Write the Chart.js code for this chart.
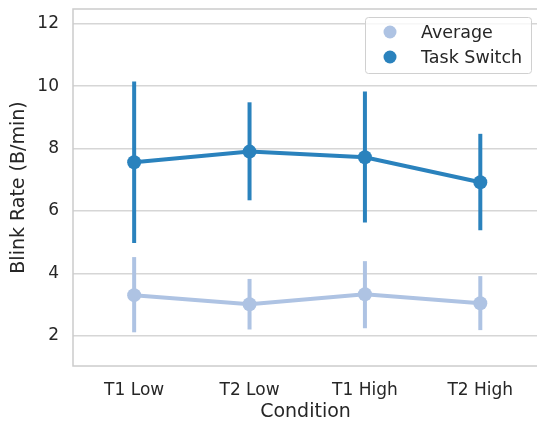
<!DOCTYPE html>
<html>
<head>
<meta charset="utf-8">
<script src="https://cdn.jsdelivr.net/npm/chart.js@4/dist/chart.umd.min.js"></script>
<style>
html,body{margin:0;padding:0;background:#fff;overflow:hidden;}
#wrap{width:545px;height:423px;}
</style>
</head>
<body>
<div id="wrap"><canvas id="c" width="545" height="423"></canvas></div>
<script>
const categories = ["T1 Low", "T2 Low", "T1 High", "T2 High"];
const seriesNames = ["Average", "Task Switch"];
const averageMean = [3.30, 3.01, 3.33, 3.04];
const averageLow  = [2.11, 2.20, 2.24, 2.18];
const averageHigh = [4.52, 3.82, 4.39, 3.91];
const taskMean = [7.56, 7.90, 7.72, 6.92];
const taskLow  = [4.97, 6.34, 5.63, 5.38];
const taskHigh = [10.15, 9.48, 9.83, 8.47];
const yTicks = [2, 4, 6, 8, 10, 12];

const colAvg = "#aec3e3";
const colTask = "#2a82bd";
const FONT = "'DejaVu Sans', sans-serif";

function errDatasets(lo, hi, color) {
  return lo.map((l, i) => ({
    type: 'line', data: [{x: i, y: l}, {x: i, y: hi[i]}],
    borderColor: color, borderWidth: 4, pointRadius: 0, borderCapStyle: 'butt',
    fill: false, isErr: true
  }));
}
function meanDataset(label, mean, color) {
  return {
    type: 'line', label: label, data: mean.map((v, i) => ({x: i, y: v})),
    borderColor: color, backgroundColor: color, borderWidth: 4,
    pointRadius: 7, pointHoverRadius: 7, pointBorderWidth: 0, pointBackgroundColor: color,
    fill: false, tension: 0, isMean: true
  };
}

const datasets = [
  ...errDatasets(averageLow, averageHigh, colAvg),
  meanDataset(seriesNames[0], averageMean, colAvg),
  ...errDatasets(taskLow, taskHigh, colTask),
  meanDataset(seriesNames[1], taskMean, colTask)
];
datasets.forEach((d, i) => d.order = datasets.length - i);

const framePlugin = {
  id: 'frame',
  beforeDatasetsDraw(chart) {
    const {ctx, chartArea: a} = chart;
    ctx.save();
    ctx.strokeStyle = '#cccccc';
    ctx.lineWidth = 1.5;
    ctx.strokeRect(a.left, a.top, a.right - a.left, a.bottom - a.top);
    ctx.restore();
  },
  afterDraw(chart) {
    const ctx = chart.ctx;
    const bx = 365, by = 17, bw = 166, bh = 56;
    ctx.save();
    ctx.fillStyle = 'rgba(255,255,255,0.8)';
    ctx.strokeStyle = '#d0d0d0';
    ctx.lineWidth = 1;
    ctx.beginPath();
    if (ctx.roundRect) ctx.roundRect(bx + 0.5, by + 0.5, bw, bh, 3); else ctx.rect(bx + 0.5, by + 0.5, bw, bh);
    ctx.fill(); ctx.stroke();
    const items = chart.data.datasets.filter(d => d.isMean);
    items.forEach((d, i) => {
      const y = 32 + i * 25;
      ctx.fillStyle = d.borderColor;
      ctx.beginPath(); ctx.arc(390, y, 6.5, 0, Math.PI * 2); ctx.fill();
      ctx.fillStyle = '#262626';
      ctx.font = '17.5px ' + FONT;
      ctx.textBaseline = 'middle';
      ctx.textAlign = 'left';
      ctx.fillText(d.label, 421, y + 1);
    });
    ctx.restore();
  }
};

new Chart(document.getElementById('c'), {
  type: 'line',
  data: { datasets },
  plugins: [framePlugin],
  options: {
    responsive: false, animation: false,
    layout: { padding: { left: 0, top: 9, right: 3, bottom: 0 } },
    plugins: { legend: { display: false }, tooltip: { enabled: false } },
    scales: {
      x: {
        type: 'linear', min: -0.53, max: 3.5,
        afterBuildTicks: s => { s.ticks = categories.map((_, i) => ({value: i})); },
        afterFit: s => { s.height = 57; s.paddingLeft = 0; s.paddingRight = 0; },
        grid: { display: false, drawTicks: false },
        border: { display: false },
        ticks: { callback: v => categories[v] ?? '', color: '#262626', font: { family: FONT, size: 17 }, padding: 14, maxRotation: 0 },
        title: { display: true, text: 'Condition', color: '#262626', font: { family: FONT, size: 19 }, padding: { top: 0, bottom: 0 } }
      },
      y: {
        type: 'linear', min: 1.03, max: 12.47,
        afterBuildTicks: s => { s.ticks = yTicks.map(v => ({value: v})); },
        afterFit: s => { s.width = 73; s.paddingTop = 0; s.paddingBottom = 0; },
        grid: { color: '#d6d6d6', lineWidth: 1.5, drawTicks: false },
        border: { display: false },
        ticks: { color: '#262626', font: { family: FONT, size: 17 }, padding: 14 },
        title: { display: true, text: 'Blink Rate (B/min)', color: '#262626', font: { family: FONT, size: 19 }, padding: { top: 8, bottom: 0 } }
      }
    }
  }
});
</script>
</body>
</html>
